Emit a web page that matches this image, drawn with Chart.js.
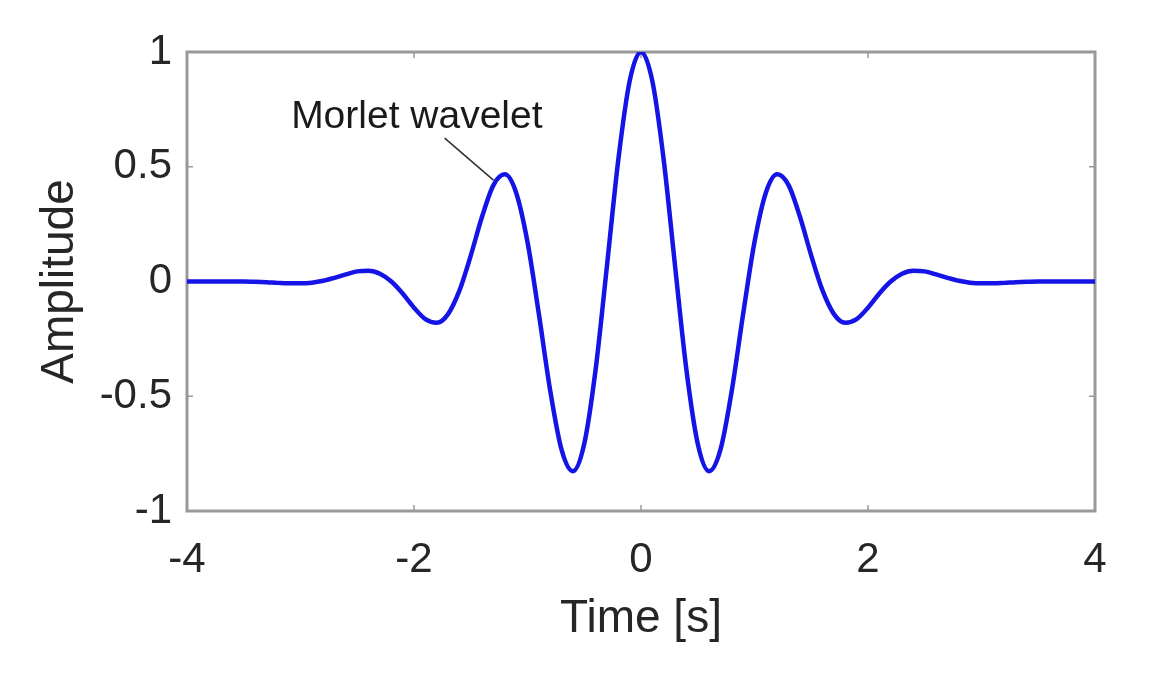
<!DOCTYPE html>
<html>
<head>
<meta charset="utf-8">
<script src="https://cdn.jsdelivr.net/npm/chart.js@4/dist/chart.umd.min.js"></script>
<style>
  html, body { margin: 0; padding: 0; background: #ffffff; }
  #wrap { width: 1156px; height: 676px; position: relative; }
</style>
</head>
<body>
<div id="wrap"><canvas id="c"></canvas></div>
<script>
// ---- data ----
const timeValues = [
  -4.0, -3.9, -3.8, -3.7, -3.6, -3.5, -3.4, -3.3, -3.2, -3.1,
  -3.0, -2.9, -2.8, -2.7, -2.6, -2.5, -2.4, -2.3, -2.2, -2.1,
  -2.0, -1.9, -1.8, -1.7, -1.6, -1.5, -1.4, -1.3, -1.2, -1.1,
  -1.0, -0.9, -0.8, -0.7, -0.6, -0.5, -0.4, -0.3, -0.2, -0.1,
   0.0,
   0.1,  0.2,  0.3,  0.4,  0.5,  0.6,  0.7,  0.8,  0.9,  1.0,
   1.1,  1.2,  1.3,  1.4,  1.5,  1.6,  1.7,  1.8,  1.9,  2.0,
   2.1,  2.2,  2.3,  2.4,  2.5,  2.6,  2.7,  2.8,  2.9,  3.0,
   3.1,  3.2,  3.3,  3.4,  3.5,  3.6,  3.7,  3.8,  3.9,  4.0
];
const amplitudeValues = [
   0.000,  0.000,  0.000,  0.000,  0.000,  0.000, -0.001, -0.003, -0.006, -0.008,
  -0.008, -0.005,  0.003,  0.016,  0.031,  0.044,  0.047,  0.034,  0.000, -0.052,
  -0.114, -0.164, -0.180, -0.142, -0.040,  0.113,  0.283,  0.420,  0.467,  0.387,
   0.172, -0.141, -0.475, -0.733, -0.827, -0.707, -0.384,  0.068,  0.530,  0.873,
   1.000,
   0.873,  0.530,  0.068, -0.384, -0.707, -0.827, -0.733, -0.475, -0.141,  0.172,
   0.387,  0.467,  0.420,  0.283,  0.113, -0.040, -0.142, -0.180, -0.164, -0.114,
  -0.052,  0.000,  0.034,  0.047,  0.044,  0.031,  0.016,  0.003, -0.005, -0.008,
  -0.008, -0.006, -0.003, -0.001,  0.000,  0.000,  0.000,  0.000,  0.000,  0.000
];
const xTickValues = [-4, -2, 0, 2, 4];
const xTickLabels = ['-4', '-2', '0', '2', '4'];
const yTickValues = [-1, -0.5, 0, 0.5, 1];
const yTickLabels = ['-1', '-0.5', '0', '0.5', '1'];
const seriesName = 'Morlet wavelet';
const xTitle = 'Time [s]';
const yTitle = 'Amplitude';

// ---- styling / layout ----
const FONT = "'Liberation Sans', Arial, Helvetica, sans-serif";
const TEXT_COLOR = '#262626';
const BOX_COLOR = '#999999';
const annotation = { textAt: { x: -1.975, y: 0.717 }, lineFrom: { x: -1.73, y: 0.625 }, lineTo: { x: -1.30, y: 0.442 } };

const points = timeValues.map((t, i) => ({ x: t, y: amplitudeValues[i] }));

const boxPlugin = {
  id: 'matlabBox',
  beforeDatasetsDraw(chart) {
    const { ctx, chartArea: a, scales } = chart;
    ctx.save();
    ctx.strokeStyle = BOX_COLOR;
    ctx.lineWidth = 1.5;
    const tl = 6;
    ctx.beginPath();
    xTickValues.forEach(v => {
      const px = scales.x.getPixelForValue(v);
      ctx.moveTo(px, a.bottom); ctx.lineTo(px, a.bottom - tl);
      ctx.moveTo(px, a.top); ctx.lineTo(px, a.top + tl);
    });
    yTickValues.forEach(v => {
      const py = scales.y.getPixelForValue(v);
      ctx.moveTo(a.left, py); ctx.lineTo(a.left + tl, py);
      ctx.moveTo(a.right, py); ctx.lineTo(a.right - tl, py);
    });
    ctx.stroke();
    ctx.lineWidth = 3;
    ctx.strokeRect(a.left, a.top, a.right - a.left, a.bottom - a.top);
    ctx.restore();
  },
  afterDatasetsDraw(chart) {
    const { ctx, scales } = chart;
    const sx = scales.x, sy = scales.y;
    ctx.save();
    ctx.strokeStyle = '#333333';
    ctx.lineWidth = 1.6;
    ctx.beginPath();
    ctx.moveTo(sx.getPixelForValue(annotation.lineFrom.x), sy.getPixelForValue(annotation.lineFrom.y));
    ctx.lineTo(sx.getPixelForValue(annotation.lineTo.x), sy.getPixelForValue(annotation.lineTo.y));
    ctx.stroke();
    ctx.fillStyle = '#1a1a1a';
    ctx.font = '39px ' + FONT;
    ctx.textAlign = 'center';
    ctx.textBaseline = 'middle';
    ctx.fillText(seriesName, sx.getPixelForValue(annotation.textAt.x), sy.getPixelForValue(annotation.textAt.y));
    ctx.restore();
  }
};

new Chart(document.getElementById('c'), {
  type: 'line',
  data: {
    datasets: [{
      label: seriesName,
      data: points,
      borderColor: '#1414e6',
      borderWidth: 4.5,
      pointRadius: 0,
      fill: false,
      cubicInterpolationMode: 'monotone'
    }]
  },
  options: {
    responsive: true,
    maintainAspectRatio: false,
    animation: false,
    events: [],
    layout: { padding: { left: 0, top: 52, right: 61, bottom: 0 } },
    plugins: { legend: { display: false }, tooltip: { enabled: false } },
    scales: {
      x: {
        type: 'linear',
        min: -4, max: 4,
        afterBuildTicks(scale) { scale.ticks = xTickValues.map(v => ({ value: v })); },
        afterFit(scale) { scale.height = 165; },
        ticks: {
          callback: (v) => xTickLabels[xTickValues.indexOf(v)],
          font: { family: FONT, size: 42 },
          color: TEXT_COLOR,
          padding: 24,
          maxRotation: 0
        },
        grid: { display: false, drawTicks: false },
        border: { display: false },
        title: {
          display: true, text: xTitle,
          font: { family: FONT, size: 46 },
          color: TEXT_COLOR,
          padding: { top: 0, bottom: 29 }
        }
      },
      y: {
        type: 'linear',
        min: -1, max: 1,
        afterBuildTicks(scale) { scale.ticks = yTickValues.map(v => ({ value: v })); },
        afterFit(scale) { scale.width = 187; },
        ticks: {
          callback: (v) => yTickLabels[yTickValues.indexOf(v)],
          font: { family: FONT, size: 42 },
          color: TEXT_COLOR,
          padding: 15
        },
        grid: { display: false, drawTicks: false },
        border: { display: false },
        title: {
          display: true, text: yTitle,
          font: { family: FONT, size: 46 },
          color: TEXT_COLOR,
          padding: { top: 33, bottom: 0 }
        }
      }
    }
  },
  plugins: [boxPlugin]
});
</script>
</body>
</html>
